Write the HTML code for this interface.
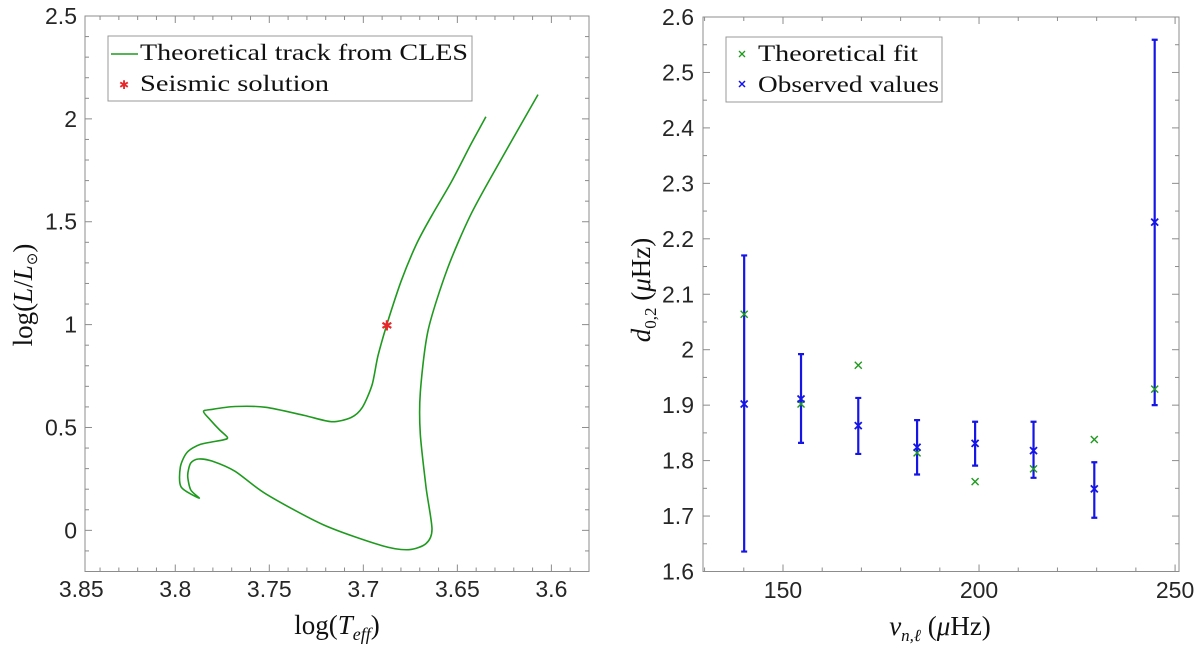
<!DOCTYPE html>
<html><head><meta charset="utf-8"><style>
html,body{margin:0;padding:0;background:#fff;}
svg{display:block;}
.tk{font-family:"Liberation Sans",sans-serif;font-size:23px;fill:#262626;}
.sr{font-family:"Liberation Serif",serif;fill:#111;}
</style></head><body>
<svg id="fig" width="1200" height="645" viewBox="0 0 1200 645" xmlns="http://www.w3.org/2000/svg">
<g id="left"></g>
<g id="right"></g>
</svg>
<script>
// Left panel data: evolutionary track (logTeff, logL)
const trackT=[3.6348,3.6430,3.6532,3.6635,3.6717,3.6799,3.6875,3.6922,3.6953,3.7005,3.7066,3.7169,3.7312,3.7518,3.7682,3.7805,3.7850,3.7815,3.7764,3.7723,3.7743,3.7867,3.7938,3.7973,3.7969,3.7873,3.7918,3.7934,3.7918,3.7877,3.7805,3.7682,3.7518,3.7210,3.6902,3.6758,3.6666,3.6635,3.6666,3.6697,3.6697,3.6656,3.6553,3.6430,3.6286,3.6071];
const trackL=[2.010,1.873,1.693,1.532,1.392,1.211,1.000,0.849,0.709,0.598,0.548,0.528,0.558,0.598,0.602,0.588,0.578,0.538,0.488,0.452,0.440,0.418,0.378,0.307,0.211,0.157,0.197,0.267,0.327,0.347,0.337,0.287,0.177,0.026,-0.074,-0.094,-0.064,0.006,0.207,0.468,0.669,0.970,1.271,1.532,1.773,2.118];
const seismicT=[3.6875];
const seismicL=[1.0];
const leftXTicks=[3.85,3.8,3.75,3.7,3.65,3.6];
const leftXTickLabels=["3.85","3.8","3.75","3.7","3.65","3.6"];
const leftYTicks=[0,0.5,1,1.5,2,2.5];
const leftYTickLabels=["0","0.5","1","1.5","2","2.5"];
// Right panel data
const freqs=[140.1,154.6,169.2,184.2,199.0,213.9,229.4,244.8];
const observed=[1.902,1.911,1.863,1.824,1.831,1.818,1.749,2.230];
const errLow=[1.636,1.832,1.812,1.775,1.791,1.769,1.697,1.900];
const errHigh=[2.170,1.992,1.913,1.873,1.870,1.870,1.797,2.559];
const theory=[2.064,1.902,1.972,1.814,1.762,1.785,1.838,1.929];
const rightXTicks=[150,200,250];
const rightXTickLabels=["150","200","250"];
const rightYTicks=[1.6,1.7,1.8,1.9,2.0,2.1,2.2,2.3,2.4,2.5,2.6];
const rightYTickLabels=["1.6","1.7","1.8","1.9","2","2.1","2.2","2.3","2.4","2.5","2.6"];

const NS="http://www.w3.org/2000/svg";
function mk(parent,tag,attrs,text){const e=document.createElementNS(NS,tag);for(const k in attrs)e.setAttribute(k,attrs[k]);if(text!==undefined)e.textContent=text;parent.appendChild(e);return e;}

function frame(g,x0,x1,y0,y1){
  const r=mk(g,'rect',{x:x0,y:y0,width:x1-x0,height:y1-y0,fill:'none',stroke:'#8c8c8c','stroke-width':1});
  
  
}

function smoothPath(pts){
  let d='M'+pts[0][0].toFixed(1)+' '+pts[0][1].toFixed(1);
  for(let i=0;i<pts.length-1;i++){
    const p0=pts[Math.max(0,i-1)],p1=pts[i],p2=pts[i+1],p3=pts[Math.min(pts.length-1,i+2)];
    const k=1/6*0.8;
    const c1=[p1[0]+(p2[0]-p0[0])*k,p1[1]+(p2[1]-p0[1])*k];
    const c2=[p2[0]-(p3[0]-p1[0])*k,p2[1]-(p3[1]-p1[1])*k];
    d+=`C${c1[0].toFixed(1)} ${c1[1].toFixed(1)} ${c2[0].toFixed(1)} ${c2[1].toFixed(1)} ${p2[0].toFixed(1)} ${p2[1].toFixed(1)}`;
  }
  return d;
}

// ---------- LEFT ----------
(function(){
  const g=document.getElementById('left');
  const X0=85,X1=589,Y0=16,Y1=571.5;
  const tmin=3.848,tmax=3.580,lmin=-0.2,lmax=2.5;
  const sx=t=>X0+(tmin-t)/(tmin-tmax)*(X1-X0);
  const sy=l=>Y1-(l-lmin)/(lmax-lmin)*(Y1-Y0);
  frame(g,X0,X1,Y0,Y1);
  for(let i=0;i<=27;i++){const t=3.85-i*0.01;if(t<tmax-1e-9||t>tmin+1e-9)continue;const x=sx(t);const big=Math.abs(Math.round(t*20)-t*20)<1e-6;const L=big?7:4;
    mk(g,'line',{x1:x,x2:x,y1:Y1,y2:Y1-L,stroke:'#8c8c8c'});mk(g,'line',{x1:x,x2:x,y1:Y0,y2:Y0+L,stroke:'#8c8c8c'});}
  for(let i=0;i<=27;i++){const l=-0.2+i*0.1;const y=sy(l);const big=Math.abs(Math.round(l*2)-l*2)<1e-6;const L=big?7:4;
    mk(g,'line',{x1:X0,x2:X0+L,y1:y,y2:y,stroke:'#8c8c8c'});mk(g,'line',{x1:X1,x2:X1-L,y1:y,y2:y,stroke:'#8c8c8c'});}
  leftXTicks.forEach((t,i)=>{const e=mk(g,'text',{x:sx(t),y:597,'text-anchor':'middle',class:'tk'},leftXTickLabels[i]);
    
    });
  leftYTicks.forEach((l,i)=>{const e=mk(g,'text',{x:77,y:sy(l)+8,'text-anchor':'end',class:'tk'},leftYTickLabels[i]);
    
    });
  const pts=trackT.map((t,i)=>[sx(t),sy(trackL[i])]);
  const p=mk(g,'path',{d:smoothPath(pts),fill:'none',stroke:'#1f9a1f','stroke-width':1.6,'stroke-linejoin':'round'});
  
  
  seismicT.forEach((t,i)=>{const s=mk(g,'text',{x:sx(t),y:sy(seismicL[i])+6,'text-anchor':'middle','font-family':'DejaVu Sans,sans-serif','font-size':14,fill:'#e8272b'},'✱');
    
    });
  const lg=mk(g,'g',{});
  
  
  mk(lg,'rect',{x:108,y:36,width:364,height:65,fill:'#fff',stroke:'#999'});
  mk(lg,'line',{x1:111,x2:138,y1:54,y2:54,stroke:'#1f9a1f','stroke-width':1.6});
  const t1=mk(lg,'text',{x:140,y:60,class:'sr','font-size':23,textLength:328,lengthAdjust:'spacingAndGlyphs'},'Theoretical track from CLES');
  
  
  mk(lg,'text',{x:124,y:89,'text-anchor':'middle','font-family':'DejaVu Sans,sans-serif','font-size':12,fill:'#e8272b'},'✱');
  const t2=mk(lg,'text',{x:140,y:91,class:'sr','font-size':23,textLength:189,lengthAdjust:'spacingAndGlyphs'},'Seismic solution');
  
  
  const xl=mk(g,'text',{x:337,y:634,'text-anchor':'middle',class:'sr','font-size':27},'');
  
  
  xl.innerHTML='log(<tspan font-style="italic">T</tspan><tspan font-style="italic" font-size="18" dy="6">eff</tspan><tspan dy="-6">)</tspan>';
  const yl=mk(g,'text',{x:0,y:0,'text-anchor':'middle',class:'sr','font-size':27,transform:'translate(32,295) rotate(-90)'},'');
  
  
  yl.innerHTML='log(<tspan font-style="italic">L</tspan>/<tspan font-style="italic">L</tspan><tspan font-size="15" dy="5">⊙</tspan><tspan dy="-5">)</tspan>';
})();

// ---------- RIGHT ----------
(function(){
  const g=document.getElementById('right');
  const X0=703,X1=1179,Y0=17,Y1=571.5;
  const fmin=129.6,fmax=251,dmin=1.6,dmax=2.6;
  const sx=f=>X0+(f-fmin)/(fmax-fmin)*(X1-X0);
  const sy=v=>Y1-(v-dmin)/(dmax-dmin)*(Y1-Y0);
  frame(g,X0,X1,Y0,Y1);
  for(let f=130;f<=250;f+=10){const x=sx(f);const L=(f%50===0)?7:4;
    mk(g,'line',{x1:x,x2:x,y1:Y1,y2:Y1-L,stroke:'#8c8c8c'});mk(g,'line',{x1:x,x2:x,y1:Y0,y2:Y0+L,stroke:'#8c8c8c'});}
  for(let i=0;i<=20;i++){const v=1.6+i*0.05;const y=sy(v);const L=(i%2===0)?7:4;
    mk(g,'line',{x1:X0,x2:X0+L,y1:y,y2:y,stroke:'#8c8c8c'});mk(g,'line',{x1:X1,x2:X1-L,y1:y,y2:y,stroke:'#8c8c8c'});}
  rightXTicks.forEach((f,i)=>{const e=mk(g,'text',{x:sx(f),y:598,'text-anchor':'middle',class:'tk'},rightXTickLabels[i]);
    
    });
  rightYTicks.forEach((v,i)=>{const e=mk(g,'text',{x:694,y:sy(v)+8,'text-anchor':'end',class:'tk'},rightYTickLabels[i]);
    
    });
  function cross(x,y,s,col,w){return mk(g,'path',{d:`M${x-s} ${y-s}L${x+s} ${y+s}M${x-s} ${y+s}L${x+s} ${y-s}`,stroke:col,'stroke-width':w,fill:'none'});}
  freqs.forEach((f,i)=>{
    const x=sx(f);
    const eb=mk(g,'path',{d:`M${x} ${sy(errLow[i])}L${x} ${sy(errHigh[i])}M${x-3} ${sy(errLow[i])}L${x+3} ${sy(errLow[i])}M${x-3} ${sy(errHigh[i])}L${x+3} ${sy(errHigh[i])}`,stroke:'#1515e6','stroke-width':2.2,fill:'none'});
    
    
    const th=cross(x,sy(theory[i]),3.5,'#1f9a1f',1.4);
    
    
    const ob=cross(x,sy(observed[i]),3.5,'#1515e6',1.8);
    
    
  });
  const lg=mk(g,'g',{});
  
  
  mk(lg,'rect',{x:726,y:37,width:216,height:65,fill:'#fff',stroke:'#999'});
  mk(lg,'path',{d:'M739 51L745 57M739 57L745 51',stroke:'#1f9a1f','stroke-width':1.3});
  mk(lg,'path',{d:'M739 81L745 87M739 87L745 81',stroke:'#1515e6','stroke-width':1.5});
  const t1=mk(lg,'text',{x:758,y:61,class:'sr','font-size':23,textLength:160,lengthAdjust:'spacingAndGlyphs'},'Theoretical fit');
  
  
  const t2=mk(lg,'text',{x:758,y:92,class:'sr','font-size':23,textLength:181,lengthAdjust:'spacingAndGlyphs'},'Observed values');
  
  
  const xl=mk(g,'text',{x:940,y:635,'text-anchor':'middle',class:'sr','font-size':27},'');
  
  
  xl.innerHTML='<tspan font-style="italic">ν</tspan><tspan font-style="italic" font-size="17" dy="6">n,ℓ</tspan><tspan dy="-6">  (</tspan><tspan font-style="italic">μ</tspan>Hz)';
  const yl=mk(g,'text',{x:0,y:0,'text-anchor':'middle',class:'sr','font-size':27,transform:'translate(650,290) rotate(-90)'},'');
  
  
  yl.innerHTML='<tspan font-style="italic">d</tspan><tspan font-size="17" dy="6">0,2</tspan><tspan dy="-6">  (</tspan><tspan font-style="italic">μ</tspan>Hz)';
})();
</script>
</body></html>
